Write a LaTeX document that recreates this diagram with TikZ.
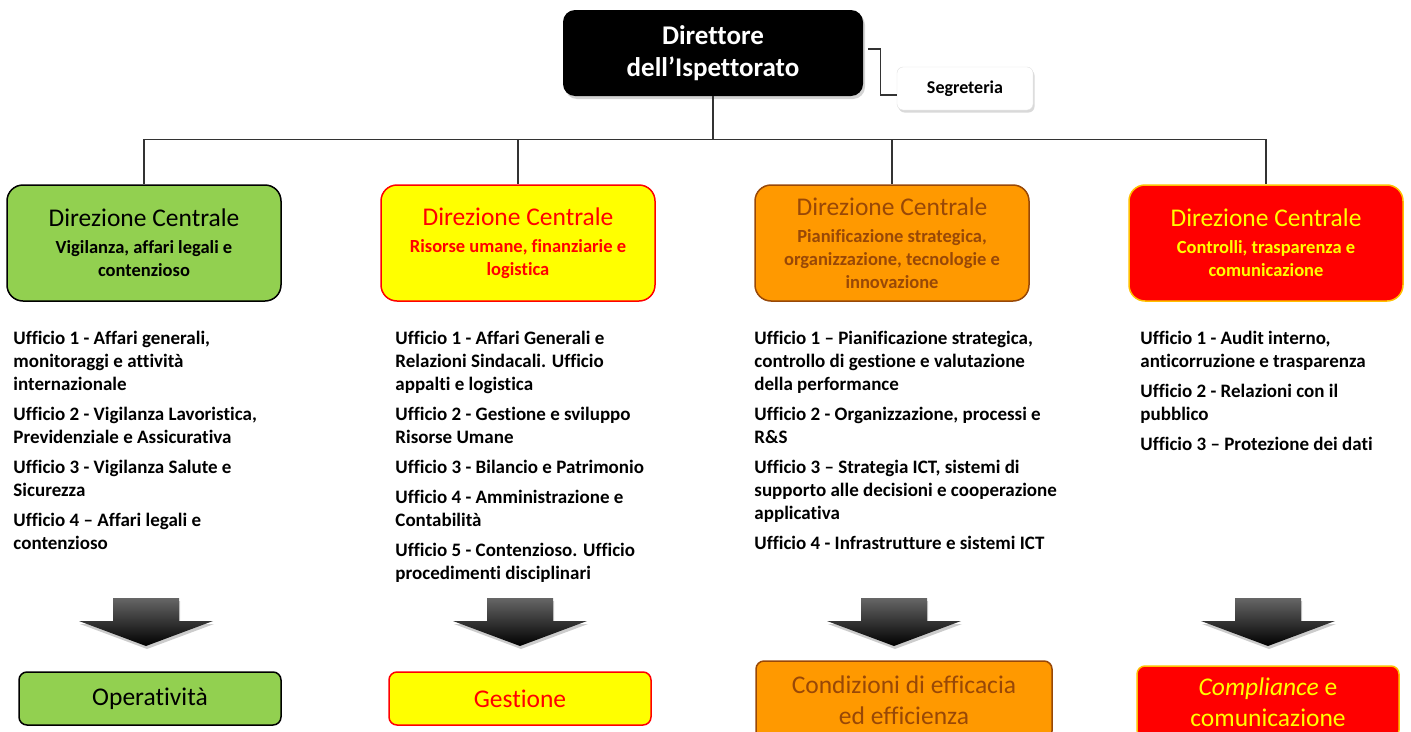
\documentclass[tikz,border=0pt]{standalone}
\usepackage{fontspec}
\setmainfont{Carlito}[Ligatures=NoCommon]
\usetikzlibrary{positioning,shadows}

\definecolor{vgfill}{HTML}{92D050}
\definecolor{rufill}{HTML}{FFFF00}
\definecolor{psfill}{HTML}{FF9900}
\definecolor{psdark}{HTML}{984807}
\definecolor{ctfill}{HTML}{FF0000}
\definecolor{ctline}{HTML}{FFC000}
\definecolor{forkline}{HTML}{333333}

\tikzset{
  dirbox/.style={rounded corners=12pt, fill=black, text=white, align=center,
    font=\bfseries\fontsize{27}{32}\selectfont,
    minimum width=300pt, minimum height=86pt,
    drop shadow={shadow xshift=2pt, shadow yshift=-3pt, opacity=.35}},
  segrbox/.style={rounded corners=6pt, fill=white, draw=black!12,
    font=\bfseries\fontsize{18}{22}\selectfont,
    minimum width=136pt, minimum height=43pt,
    drop shadow={shadow xshift=1.5pt, shadow yshift=-2.5pt, opacity=.3}},
  dcbox/.style={rounded corners=16pt, line width=1.5pt, align=center,
    minimum width=274pt, minimum height=116pt,
    font=\bfseries\fontsize{18.5}{23}\selectfont},
  uffici/.style={align=left, inner sep=0pt,
    font=\bfseries\fontsize{19}{23}\selectfont},
  outbox/.style={rounded corners=8pt, line width=1.5pt, align=center,
    minimum width=262pt, minimum height=53pt,
    font=\fontsize{25.5}{31}\selectfont},
  blockarrow/.style={top color=black!60, middle color=black, bottom color=black,
    drop shadow={shadow xshift=1pt, shadow yshift=-3pt, opacity=.4}}
}
\newcommand{\dctitle}[1]{{\mdseries\fontsize{25.5}{23}\selectfont #1}\\[4pt]}

\begin{document}
\begin{tikzpicture}[x=1pt, y=1pt,
    level 1/.style={sibling distance=374pt, nodes={xshift=-8pt}},
    level distance=190pt,
    edge from parent/.style={draw, line width=1.4pt, forkline},
    edge from parent path={(\tikzparentnode.south) -- ++(0,-43) -| (\tikzchildnode.north)}
    ]
  \useasboundingbox (0,0) rectangle (1411,-731);

  % vertice e direzioni centrali
  \node [dirbox] (dir) at (713,-53) {Direttore\\dell’Ispettorato}
    child { node [dcbox, fill=vgfill, draw=black] (vg)
      {\dctitle{Direzione Centrale}Vigilanza, affari legali e\\contenzioso} }
    child { node [dcbox, fill=rufill, draw=red, text=red] (ru)
      {\dctitle{Direzione Centrale}Risorse umane, finanziarie e\\logistica} }
    child { node [dcbox, fill=psfill, draw=psdark, text=psdark] (ps)
      {\dctitle{Direzione Centrale}Pianificazione strategica,\\organizzazione, tecnologie e\\innovazione} }
    child { node [dcbox, fill=ctfill, draw=ctline, text=rufill] (ct)
      {\dctitle{Direzione Centrale}Controlli, trasparenza e\\comunicazione} };

  \node [segrbox] (segr) at (965,-88.5) {Segreteria};
  \draw [line width=1.2pt, forkline] ([xshift=5pt,yshift=4pt]dir.east) -- ++(12,0) |- ([yshift=-6.5pt]segr.west);

  % uffici
  \node [uffici, below right=29pt and 7pt of vg.south west] (vgu)
    {Ufficio 1 - Affari generali,\\monitoraggi e attività\\internazionale\\[7pt]
     Ufficio 2 - Vigilanza Lavoristica,\\Previdenziale e Assicurativa\\[7pt]
     Ufficio 3 - Vigilanza Salute e\\Sicurezza\\[7pt]
     Ufficio 4 – Affari legali e\\contenzioso};
  \node [uffici, below right=29pt and 15pt of ru.south west] (ruu)
    {Ufficio 1 - Affari Generali e\\Relazioni Sindacali. Ufficio\\appalti e logistica\\[7pt]
     Ufficio 2 - Gestione e sviluppo\\Risorse Umane\\[7pt]
     Ufficio 3 - Bilancio e Patrimonio\\[7pt]
     Ufficio 4 - Amministrazione e\\Contabilità\\[7pt]
     Ufficio 5 - Contenzioso. Ufficio\\procedimenti disciplinari};
  \node [uffici, below right=29pt and 0pt of ps.south west] (psu)
    {Ufficio 1 – Pianificazione strategica,\\controllo di gestione e valutazione\\della performance\\[7pt]
     Ufficio 2 - Organizzazione, processi e\\R\&S\\[7pt]
     Ufficio 3 – Strategia ICT, sistemi di\\supporto alle decisioni e cooperazione\\applicativa\\[7pt]
     Ufficio 4 - Infrastrutture e sistemi ICT};
  \node [uffici, below right=29pt and 12pt of ct.south west] (ctu)
    {Ufficio 1 - Audit interno,\\anticorruzione e trasparenza\\[7pt]
     Ufficio 2 - Relazioni con il\\pubblico\\[7pt]
     Ufficio 3 – Protezione dei dati};

  % frecce
  \coordinate (arrowtop) at (0,-598);
  \foreach \c in {vg,ru,ps,ct}
    \shade [blockarrow] ([xshift=2pt]\c |- arrowtop) ++(-33,0) -- ++(66,0) -- ++(0,-23) -- ++(34,0)
      -- ++(-67,-25) -- ++(-67,25) -- ++(34,0) -- cycle;

  % risultati
  \node [outbox, fill=vgfill, draw=black] (vgo) at (150,-698.5) {Operatività};
  \node [outbox, fill=rufill, draw=red, text=red] (ruo) at (520,-698.5) {Gestione};
  \node [outbox, fill=psfill, draw=psdark, text=psdark, minimum width=296pt, minimum height=78pt]
    (pso) at (904,-700) {Condizioni di efficacia\\ed efficienza};
  \node [outbox, fill=ctfill, draw=ctline, text=rufill, minimum height=72pt]
    (cto) at (1268,-702) {\textit{Compliance} e\\comunicazione};
\end{tikzpicture}
\end{document}
